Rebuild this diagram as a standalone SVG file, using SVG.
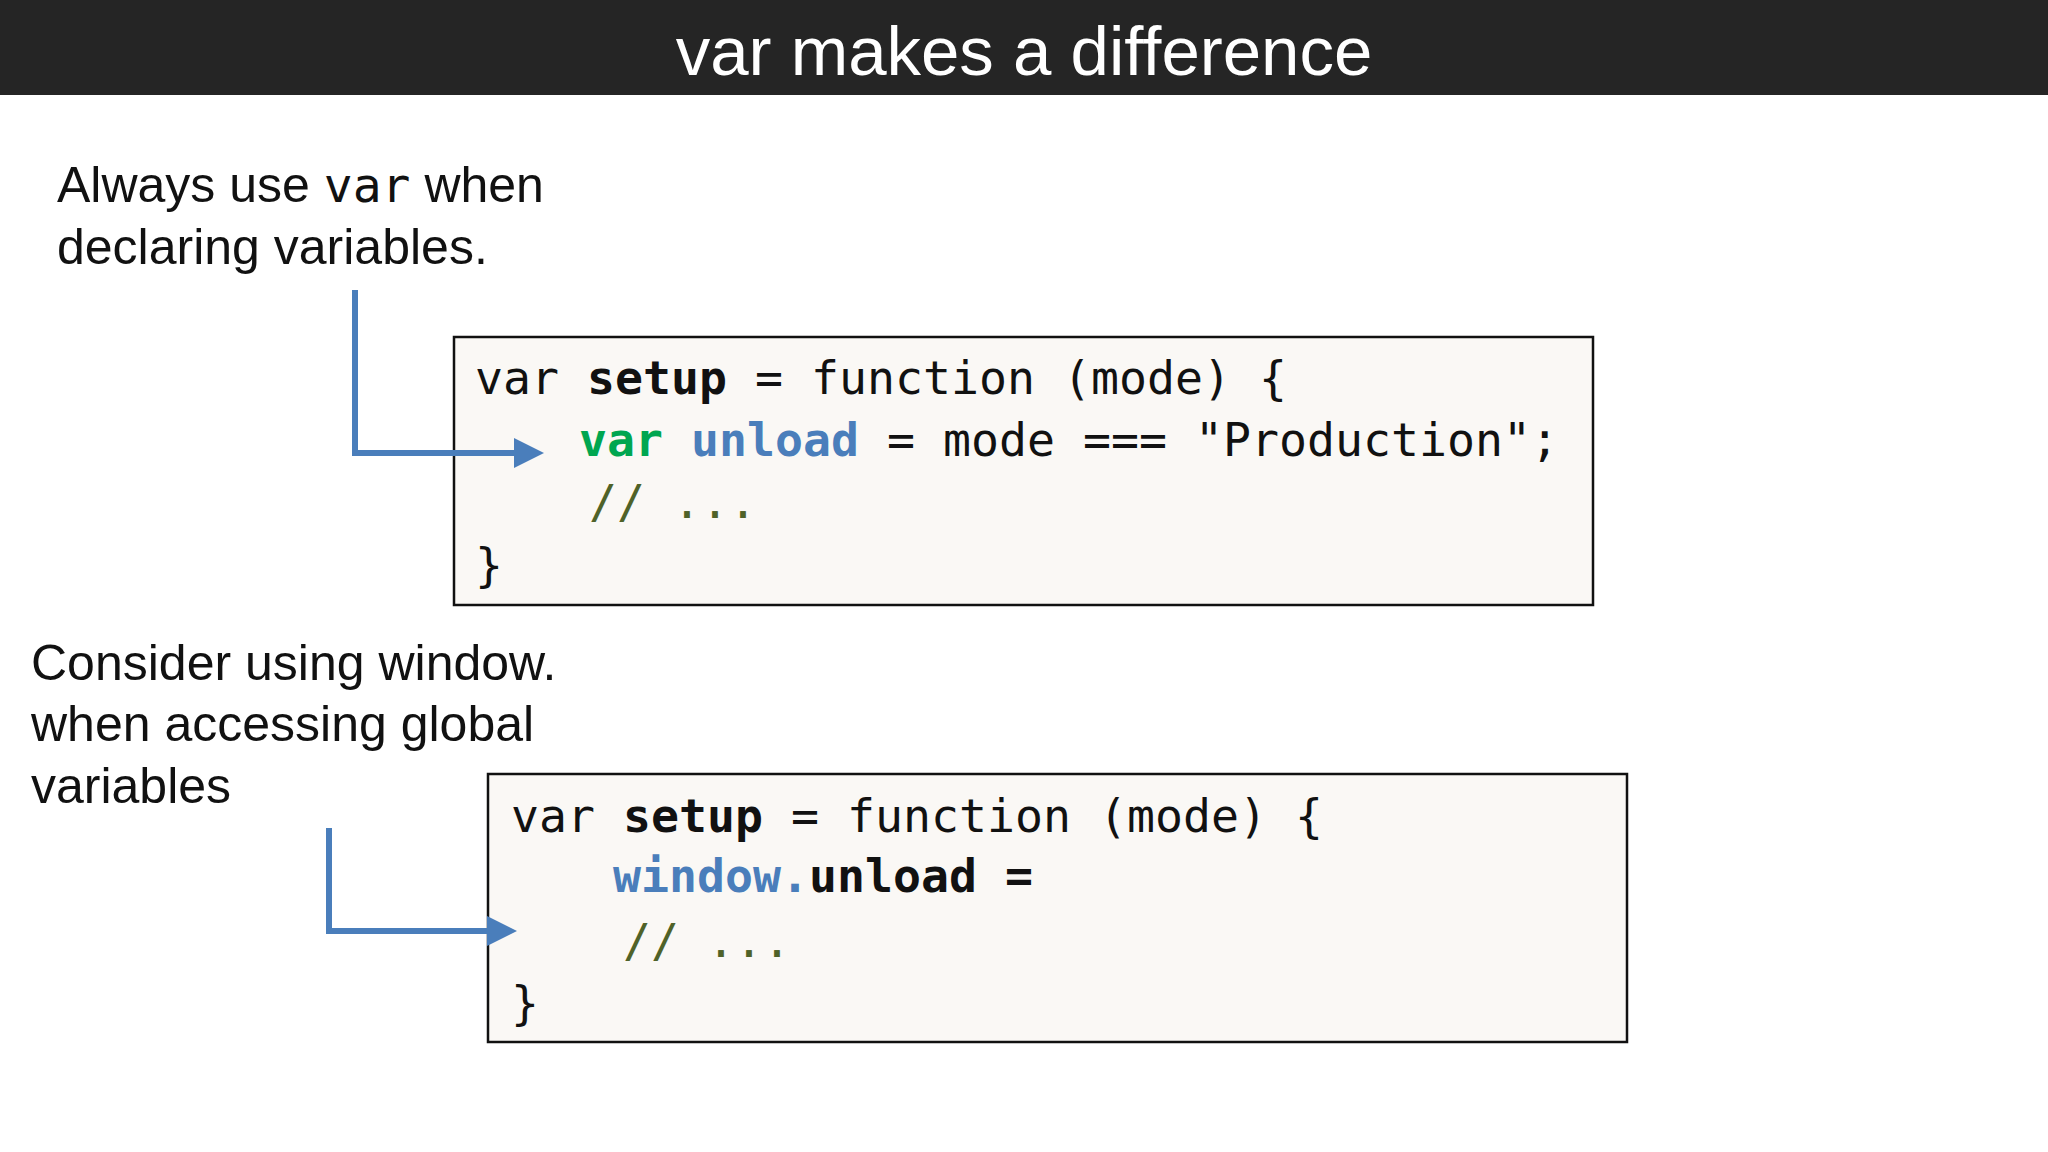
<svg xmlns="http://www.w3.org/2000/svg" width="2048" height="1152" viewBox="0 0 2048 1152">
<style>
.t{font-family:"Liberation Sans",Arial,sans-serif;font-size:50px;fill:#111}
.c{font-family:"DejaVu Sans Mono","Liberation Mono",monospace;font-size:46.5px;fill:#111}
.b{font-weight:bold}
.g{fill:#00a650}
.bl{fill:#4a7ebb}
.cm{fill:#4f6228}
.box{fill:#faf8f5;stroke:#111;stroke-width:2.5}
.ar{fill:none;stroke:#4a7ebb;stroke-width:6}
</style>
<defs><marker id="ah" markerWidth="5" markerHeight="5" refX="4" refY="2.5" orient="auto" markerUnits="strokeWidth"><path d="M0,0L5,2.5L0,5z" fill="#4a7ebb"/></marker></defs>
<rect width="2048" height="1152" fill="#fff"/>
<rect width="2048" height="95" fill="#252525"/>
<text x="1024" y="75" text-anchor="middle" style="font-family:'Liberation Sans',Arial,sans-serif;font-size:69px;fill:#fff">var makes a difference</text>
<g id="note1"><text class="t" x="57" y="202">Always use <tspan class="c" style="font-size:48px">var</tspan> when</text><text class="t" x="57" y="264">declaring variables.</text></g>
<g id="note2"><text class="t" x="31" y="680">Consider using window.</text><text class="t" x="31" y="741">when accessing global</text><text class="t" x="31" y="803">variables</text></g>
<g id="code1"><rect class="box" x="454" y="337" width="1139" height="268"/>
<text class="c" x="475" y="394">var <tspan class="b">setup</tspan> = function (mode) {</text>
<text class="c" x="579" y="456"><tspan class="b g">var</tspan> <tspan class="b bl">unload</tspan> = mode === "Production";</text>
<text class="c cm" x="589" y="518">// ...</text>
<text class="c" x="475" y="581">}</text></g>
<g id="code2"><rect class="box" x="488" y="774" width="1139" height="268"/>
<text class="c" x="511" y="832">var <tspan class="b">setup</tspan> = function (mode) {</text>
<text class="c b" x="613" y="892"><tspan class="bl">window.</tspan>unload =</text>
<text class="c cm" x="623" y="957">// ...</text>
<text class="c" x="511" y="1019">}</text></g>
<g id="connectors">
<path class="ar" d="M355,290V453H538" marker-end="url(#ah)"/>
<path class="ar" d="M329,828V931H511" marker-end="url(#ah)"/>
</g>
</svg>
